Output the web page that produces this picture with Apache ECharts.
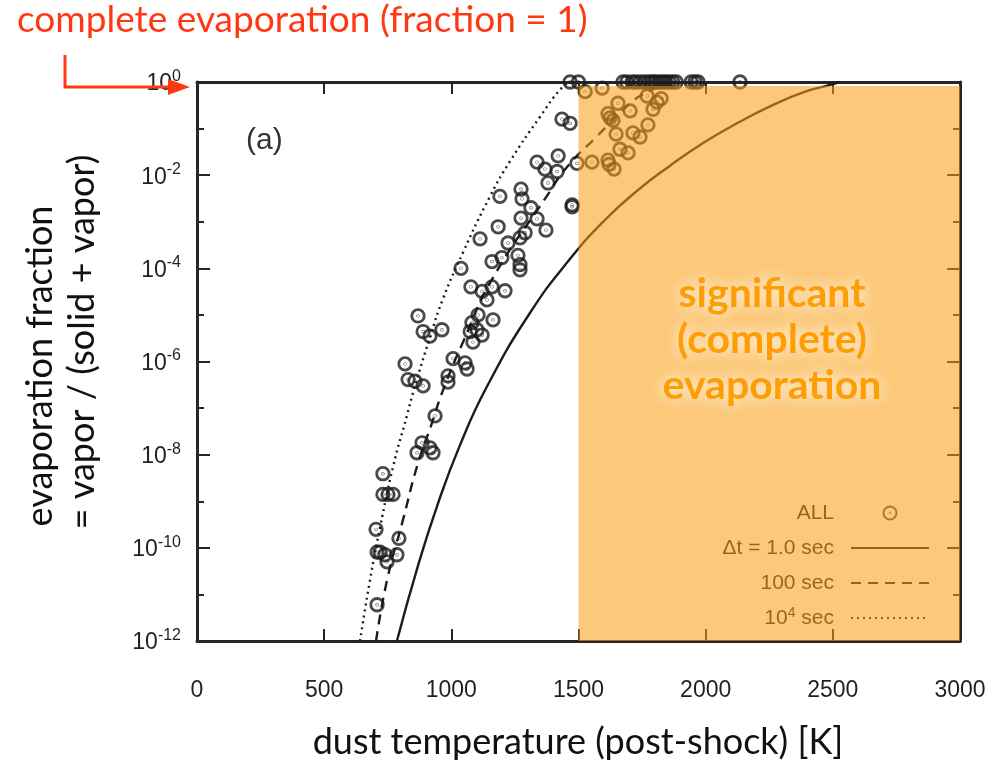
<!DOCTYPE html>
<html>
<head>
<meta charset="utf-8">
<script src="https://cdn.jsdelivr.net/npm/echarts@6/dist/echarts.min.js"></script>
<style>
  html, body { margin: 0; padding: 0; background: #fff; }
  #main { width: 996px; height: 763px; }
</style>
</head>
<body>
<div id="main"></div>
<script>
// measured points (ALL)
const allTemp = [
  708, 704, 794, 720, 708, 739, 747, 786, 731, 751, 731, 771,
  865, 916, 928, 885, 936, 818, 830, 857, 889, 1007, 1054, 1062,
  987, 987, 869, 889, 916, 963, 1105, 1164, 1081, 1074, 1101, 1121,
  1085, 1038, 1077, 1121, 1160, 1211, 1140, 1160, 1199, 1262, 1270, 1270,
  1113, 1223, 1270, 1290, 1184, 1274, 1337, 1372, 1313, 1191, 1274, 1278,
  1475, 1475, 1337, 1368, 1420, 1416, 1380, 1435, 1467, 1494,
  1467, 1500, 1675, 1690, 1711, 1725, 1742, 1760, 1777, 1790, 1801, 1815,
  1829, 1842, 1856, 1870, 1884, 1943, 1958, 1970, 2135,
  1526, 1593, 1655, 1703, 1616, 1624, 1636, 1809, 1793, 1825, 1773, 1648,
  1714, 1742, 1663, 1695, 1553, 1616, 1620, 1640, 1770
]
const allFrac = [
  6.0e-12, 2.5e-10, 1.6e-10, 8.1e-11, 8.1e-11, 7.1e-11, 5.0e-11, 7.1e-11, 3.9e-9, 1.4e-9, 1.4e-9, 1.4e-9,
  1.1e-8, 1.4e-8, 1.1e-8, 1.8e-8, 6.8e-8, 8.9e-7, 4.1e-7, 3.8e-7, 3.0e-7, 1.15e-6, 9.3e-7, 6.9e-7,
  4.9e-7, 3.6e-7, 9.5e-6, 4.4e-6, 3.5e-6, 4.8e-6, 1.0e-5, 7.8e-6, 6.8e-6, 4.4e-6, 4.8e-6, 3.7e-6,
  2.6e-6, 1.0e-4, 4.0e-5, 3.2e-5, 4.0e-5, 3.3e-5, 2.1e-5, 1.4e-4, 1.7e-4, 1.9e-4, 1.2e-4, 9.3e-5,
  4.3e-4, 3.5e-4, 4.5e-4, 5.8e-4, 7.8e-4, 1.2e-3, 1.15e-3, 6.6e-4, 2.0e-3, 3.5e-3, 5.0e-3, 3.1e-3,
  2.3e-3, 2.1e-3, 1.9e-2, 1.35e-2, 2.6e-2, 1.2e-2, 6.8e-3, 0.16, 0.13, 1.8e-2,
  1, 1, 1, 1, 1, 1, 1, 1, 1, 1, 1, 1,
  1, 1, 1, 1, 1, 1, 1, 1, 1,
  0.62, 0.74, 0.35, 0.24, 0.21, 0.17, 0.15, 0.37, 0.26, 0.44, 0.12, 0.076,
  0.081, 0.066, 0.036, 0.030, 0.019, 0.021, 0.017, 0.0135, 0.5
]

// model curves
const sec1Temp = [786, 865, 944, 1034, 1140, 1309, 1467, 1597, 1730, 1860, 1990, 2123, 2253, 2383, 2489, 2530]
const sec1Frac = [1e-12, 3.5e-11, 7.9e-10, 1.6e-8, 2.9e-7, 1.1e-5, 1.6e-4, 1.0e-3, 4.6e-3, 1.6e-2, 4.9e-2, 0.13, 0.30, 0.60, 0.87, 1]
const sec100Temp = [704, 747, 810, 869, 924, 963, 1047, 1164, 1376, 1455, 1565, 1714, 1781, 1850]
const sec100Frac = [1e-12, 2.0e-11, 4.0e-10, 6.6e-9, 4.8e-8, 2.1e-7, 2.7e-6, 6.3e-5, 3.6e-3, 1.5e-2, 6.2e-2, 0.39, 0.65, 1]
const sec1e4Temp = [641, 680, 720, 771, 826, 853, 916, 967, 1046, 1152, 1231, 1349, 1427, 1465]
const sec1e4Frac = [1e-12, 2.0e-11, 2.8e-10, 5.5e-9, 7.1e-8, 2.5e-7, 3.3e-6, 2.2e-5, 2.2e-4, 3.5e-3, 2.0e-2, 0.18, 0.68, 1]

const xTicks = [0, 500, 1000, 1500, 2000, 2500, 3000]
const legendNames = ['ALL', 'Δt = 1.0 sec', '100 sec', '10⁴ sec']

const ink = '#1c1c1c'
const dotRing = 'path://M10,0A10,10,0,1,1,-10,0A10,10,0,1,1,10,0ZM0.4,0A0.4,0.4,0,1,1,-0.4,0A0.4,0.4,0,1,1,0.4,0Z'
const pairs = (xs, ys) => xs.map((x, i) => [x, ys[i]])

const chart = echarts.init(document.getElementById('main'))

const supRich = {
  base: { fontSize: 23, lineHeight: 27, verticalAlign: 'bottom', fontFamily: 'Liberation Sans', color: '#231f20' },
  sup: { fontSize: 16, lineHeight: 27, verticalAlign: 'top', fontFamily: 'Liberation Sans', color: '#231f20' }
}
const expLabel = v => {
  const e = Math.round(Math.log10(v))
  return '{base|10}{sup|' + e + '}'
}
const logAxis = (position, interval, tickLen, showLabel, showLine) => ({
  type: 'log',
  logBase: 10,
  position: position,
  min: 1e-12,
  max: 1,
  interval: interval,
  axisLine: { show: showLine, lineStyle: { color: '#262626', width: 3 } },
  axisTick: { show: true, inside: true, length: tickLen, lineStyle: { color: '#262626', width: 2 } },
  axisLabel: { show: showLabel, margin: 16, formatter: expLabel, rich: supRich },
  splitLine: { show: false },
  minorTick: { show: false }
})
const valAxis = (position, showLabel) => ({
  type: 'value',
  position: position,
  min: xTicks[0],
  max: xTicks[xTicks.length - 1],
  interval: xTicks[1] - xTicks[0],
  axisLine: { show: true, lineStyle: { color: '#262626', width: 3 } },
  axisTick: { show: true, inside: true, length: 12, lineStyle: { color: '#262626', width: 2 } },
  axisLabel: {
    show: showLabel, margin: 38, fontSize: 23, fontFamily: 'Liberation Sans', color: '#231f20',
    formatter: v => String(v)
  },
  splitLine: { show: false }
})

const option = {
  animation: false,
  backgroundColor: '#fff',
  grid: { left: 197, right: 36, top: 82, bottom: 122 },
  xAxis: [valAxis('bottom', true), valAxis('top', false)],
  yAxis: [
    logAxis('left', 1, 7, false, true),
    logAxis('left', 2, 13, true, false),
    logAxis('right', 1, 7, false, true),
    logAxis('right', 2, 13, false, false)
  ],
  legend: {
    data: [
      { name: legendNames[0] },
      { name: legendNames[1], itemStyle: { opacity: 0 } },
      { name: legendNames[2], itemStyle: { opacity: 0 } },
      { name: legendNames[3], itemStyle: { opacity: 0 } }
    ],
    orient: 'vertical',
    align: 'right',
    right: 61,
    top: 496,
    itemWidth: 78,
    itemHeight: 13,
    itemGap: 11,
    selectedMode: false,
    formatter: name => name.replace('⁴', '{sup|4}'),
    textStyle: {
      fontSize: 21,
      lineHeight: 24,
      fontFamily: 'Liberation Sans',
      color: ink,
      padding: [0, 12, 0, 0],
      rich: { sup: { fontSize: 14, lineHeight: 24, verticalAlign: 'top', fontFamily: 'Liberation Sans', color: ink } }
    }
  },
  series: [
    {
      name: legendNames[1],
      type: 'line',
      data: pairs(sec1Temp, sec1Frac),
      smooth: 0.5,
      symbol: 'none',
      z: 2,
      lineStyle: { color: ink, width: 2.4, type: 'solid' },
      itemStyle: { color: ink }
    },
    {
      name: legendNames[2],
      type: 'line',
      data: pairs(sec100Temp, sec100Frac),
      smooth: 0.5,
      symbol: 'none',
      z: 2,
      lineStyle: { color: ink, width: 2.4, type: [10, 7] },
      itemStyle: { color: ink }
    },
    {
      name: legendNames[3],
      type: 'line',
      data: pairs(sec1e4Temp, sec1e4Frac),
      smooth: 0.5,
      symbol: 'none',
      z: 2,
      lineStyle: { color: ink, width: 2.4, type: [2, 4] },
      itemStyle: { color: ink }
    },
    {
      name: legendNames[0],
      type: 'scatter',
      data: pairs(allTemp, allFrac),
      symbol: dotRing,
      symbolSize: 12.5,
      z: 3,
      itemStyle: { color: 'rgba(0,0,0,0)', borderColor: ink, borderWidth: 2.8 }
    },
    {
      // translucent overlay: significant evaporation region
      type: 'line',
      data: [],
      z: 10,
      silent: true,
      markArea: {
        z: 10,
        silent: true,
        itemStyle: { color: 'rgba(250,159,18,0.56)' },
        data: [[{ xAxis: 1500, yAxis: 1e-12 }, { xAxis: 3000, yAxis: 0.82 }]]
      }
    }
  ],
  graphic: [
    {
      type: 'text', left: 17, top: 2, z: 100,
      style: { text: 'complete evaporation (fraction = 1)', font: '37px Lato', fill: '#ff3814' }
    },
    {
      type: 'polyline', z: 100,
      shape: { points: [[65, 55], [65, 87], [172, 87]] },
      style: { stroke: '#ff3814', lineWidth: 3, fill: null }
    },
    {
      type: 'polygon', z: 100,
      shape: { points: [[168, 79], [190, 87], [168, 95]] },
      style: { fill: '#ff3814' }
    },
    {
      type: 'text', left: 246, top: 126, z: 100,
      style: { text: '(a)', font: '30px "Liberation Sans"', fill: '#333' }
    },
    {
      type: 'text', z: 100, x: 772, y: 340,
      style: {
        text: 'significant\n(complete)\nevaporation',
        font: 'bold 41px Lato',
        lineHeight: 46,
        fill: '#ff9d05',
        align: 'center',
        verticalAlign: 'middle',
        textShadowColor: '#ffffff',
        textShadowBlur: 14
      }
    },
    {
      type: 'text', z: 100, x: 40, y: 366, rotation: Math.PI / 2,
      style: { text: 'evaporation fraction', font: '36px Lato', fill: '#111', align: 'center', verticalAlign: 'middle' }
    },
    {
      type: 'text', z: 100, x: 82, y: 342, rotation: Math.PI / 2,
      style: { text: '= vapor / (solid + vapor)', font: '36px Lato', fill: '#111', align: 'center', verticalAlign: 'middle' }
    },
    {
      type: 'text', z: 100, x: 578, y: 742,
      style: { text: 'dust temperature (post-shock) [K]', font: '36px Lato', fill: '#111', align: 'center', verticalAlign: 'middle' }
    }
  ]
}
chart.setOption(option)
</script>
</body>
</html>
